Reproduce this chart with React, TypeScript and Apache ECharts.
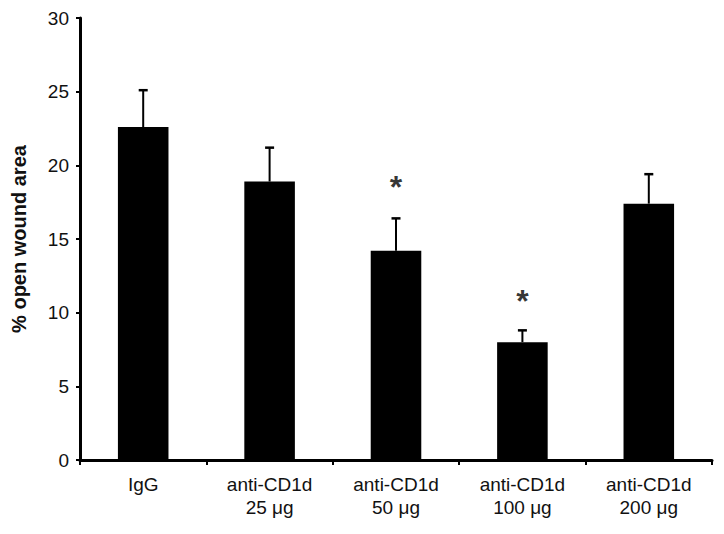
import React, { useEffect, useRef } from "react";
import * as echarts from "echarts";

const categories = ["IgG", "anti-CD1d\n25 μg", "anti-CD1d\n50 μg", "anti-CD1d\n100 μg", "anti-CD1d\n200 μg"];
const means = [22.6, 18.9, 14.2, 8.0, 17.4];
const errors = [2.5, 2.3, 2.2, 0.8, 2.0];
const starIndex = [2, 3];
const starValue = [18.9, 11.1];
const yTicks = { min: 0, max: 30, interval: 5 };
const yTitle = "% open wound area";

const FONT = "'Liberation Sans', Arial, sans-serif";

export default function App() {
  const ref = useRef<HTMLDivElement>(null);
  useEffect(() => {
    if (!ref.current) return;
    const chart = echarts.init(ref.current, undefined, { renderer: "svg" });
    const errData = means.map((m, i) => [i, m, m + errors[i]]);
    const starData = starIndex.map((c, i) => [c, starValue[i]]);
    chart.setOption({
      animation: false,
      backgroundColor: "#ffffff",
      grid: { left: 80, right: 12, top: 18, bottom: 74, containLabel: false },
      xAxis: {
        type: "category",
        data: categories,
        boundaryGap: true,
        axisLine: { show: true, lineStyle: { color: "#000", width: 3 } },
        axisTick: { show: true, length: 5, inside: false, lineStyle: { color: "#000", width: 2 } },
        axisLabel: {
          interval: 0,
          margin: 13,
          color: "#111",
          fontFamily: FONT,
          fontSize: 19,
          lineHeight: 23,
        },
      },
      yAxis: {
        type: "value",
        min: yTicks.min,
        max: yTicks.max,
        interval: yTicks.interval,
        name: yTitle,
        nameLocation: "middle",
        nameGap: 51,
        nameRotate: 90,
        nameTextStyle: { color: "#111", fontFamily: FONT, fontSize: 20, fontWeight: "bold" },
        splitLine: { show: false },
        axisLine: { show: true, lineStyle: { color: "#000", width: 3 } },
        axisTick: { show: true, length: 4, inside: false, lineStyle: { color: "#000", width: 2 } },
        axisLabel: { margin: 11, color: "#111", fontFamily: FONT, fontSize: 19 },
      },
      series: [
        {
          type: "bar",
          data: means,
          barWidth: "40%",
          itemStyle: { color: "#000" },
          z: 2,
        },
        {
          type: "custom",
          data: errData,
          encode: { x: 0, y: [1, 2] },
          z: 3,
          renderItem: (params: any, api: any) => {
            const x = api.value(0);
            const lo = api.coord([x, api.value(1)]);
            const hi = api.coord([x, api.value(2)]);
            const style = { stroke: "#000", lineWidth: 2 };
            return {
              type: "group",
              children: [
                { type: "line", shape: { x1: lo[0], y1: lo[1], x2: hi[0], y2: hi[1] }, style },
                { type: "line", shape: { x1: hi[0] - 4.5, y1: hi[1], x2: hi[0] + 4.5, y2: hi[1] }, style: { stroke: "#000", lineWidth: 2.5 } },
              ],
            };
          },
        },
        {
          type: "scatter",
          data: starData,
          symbolSize: 0,
          z: 4,
          label: {
            show: true,
            position: "inside",
            formatter: "*",
            color: "#000",
            fontFamily: FONT,
            fontWeight: "bold",
            fontSize: 32,
            offset: [0, 5],
          },
        },
      ],
    });
    return () => chart.dispose();
  }, []);
  return <div ref={ref} style={{ position: "absolute", left: 0, top: 0, width: 724, height: 534 }} />;
}
